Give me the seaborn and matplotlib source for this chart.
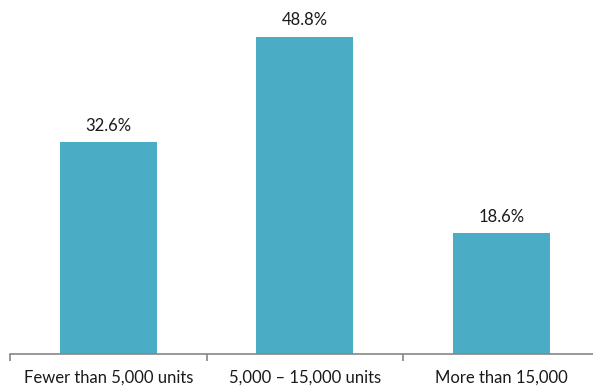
import matplotlib
matplotlib.use("Agg")
import matplotlib.pyplot as plt
from matplotlib.ticker import FixedLocator, NullFormatter
import seaborn as sns
import pandas as pd

categories = ["Fewer than 5,000 units", "5,000 \u2013 15,000 units", "More than 15,000"]
shares = [32.6, 48.8, 18.6]
value_labels = ["32.6%", "48.8%", "18.6%"]

sns.set_theme(style="white")
plt.rcParams["font.family"] = ["Lato", "DejaVu Sans"]

df = pd.DataFrame({"category": categories, "share": shares})

fig = plt.figure(figsize=(5.93, 3.87), dpi=100)
ax = fig.add_axes([10 / 593, 33 / 387, 589.5 / 593, 325 / 387])

sns.barplot(data=df, x="category", y="share", order=categories,
            color="#4BACC6", saturation=1, width=0.495, linewidth=0, ax=ax)

ax.set_ylim(0, 50)
ax.set_xlim(-0.5, 2.5)

for i, (v, lab) in enumerate(zip(shares, value_labels)):
    ax.annotate(lab, (i, v), xytext=(0, 6), textcoords="offset points",
                ha="center", va="bottom", fontsize=12, color="#1a1a1a")

for side in ("top", "right", "left"):
    ax.spines[side].set_visible(False)
ax.spines["bottom"].set_color("#868686")
ax.spines["bottom"].set_linewidth(1.2)

ax.set_yticks([])
ax.set_xlabel("")
ax.set_ylabel("")
ax.tick_params(axis="x", which="major", length=0, labelsize=12,
               labelcolor="#1a1a1a", pad=11)
ax.xaxis.set_minor_locator(FixedLocator([-0.5, 0.5, 1.5, 2.5]))
ax.xaxis.set_minor_formatter(NullFormatter())
ax.tick_params(axis="x", which="minor", bottom=True, length=5, width=1.2,
               color="#868686", direction="out")

fig.savefig("out.png", dpi=100)
